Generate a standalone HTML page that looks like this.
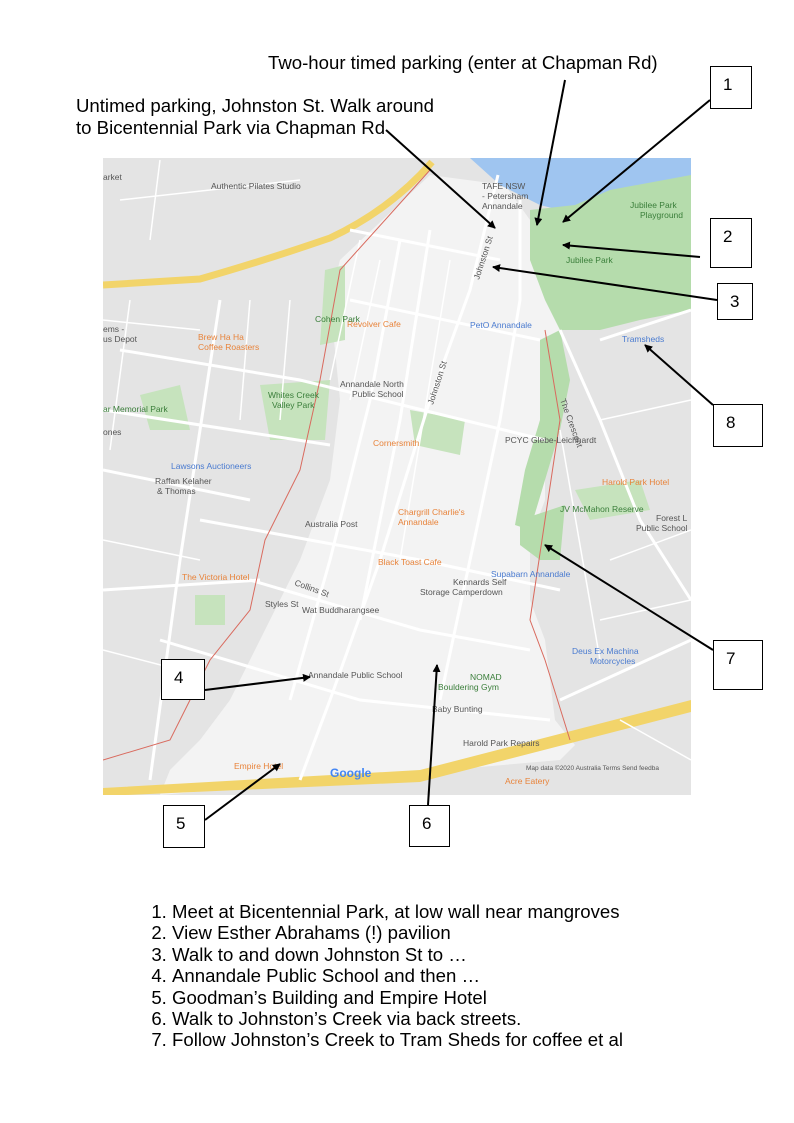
<!DOCTYPE html>
<html><head><meta charset="utf-8"><style>
body{margin:0;width:794px;height:1123px;background:#fff;position:relative;font-family:"Liberation Sans",Arial,sans-serif;overflow:hidden}
.t{position:absolute;font-size:18.6px;color:#000;white-space:nowrap}
.b{position:absolute;border:1px solid #000;background:#fff;font-size:17px;box-sizing:border-box;padding:8px 0 0 12px}
ol{position:absolute;left:130px;top:901px;margin:0;padding-left:42px;font-size:18.6px;line-height:21.4px}
svg{position:absolute;left:0;top:0}
</style></head><body>
<svg width="794" height="1123" viewBox="0 0 794 1123" font-family="Liberation Sans, Arial, sans-serif">
<defs><clipPath id="c"><rect x="103" y="158" width="588" height="637"/></clipPath>
<marker id="a" markerWidth="8" markerHeight="8" refX="7" refY="4" orient="auto" markerUnits="userSpaceOnUse"><path d="M0,0L8,4L0,8z" fill="#000"/></marker></defs>
<g clip-path="url(#c)">
<rect x="103" y="158" width="588" height="637" fill="#e4e4e4"/>
<polygon points="340,260 430,175 505,185 530,220 548,260 560,330 545,420 545,500 530,540 530,600 545,640 555,720 575,745 560,760 160,795 170,770 200,740 230,700 260,640 300,560 330,480 340,400 330,300" fill="#f3f3f3"/>
<polygon points="470,158 691,158 691,180 600,200 560,210 540,205 500,185" fill="#9fc5f0"/>
<polygon points="530,210 575,205 610,190 691,175 691,310 640,320 600,330 560,330 545,300 530,260" fill="#b5dcac"/>
<polygon points="540,340 560,330 570,380 560,430 545,480 530,530 515,525 525,470 540,420" fill="#b5dcac"/>
<polygon points="520,520 565,505 560,560 540,560 520,545" fill="#b5dcac"/>
<polygon points="575,490 640,480 650,510 590,520" fill="#c6e3bd"/>
<polygon points="325,270 345,265 345,340 320,345" fill="#c6e3bd"/>
<polygon points="260,385 330,380 325,440 270,440" fill="#c6e3bd"/>
<polygon points="140,395 180,385 190,430 150,430" fill="#c6e3bd"/>
<polygon points="410,410 465,420 460,455 415,445" fill="#c6e3bd"/>
<polygon points="195,595 225,595 225,625 195,625" fill="#c6e3bd"/>
<path d="M103,285 L200,279 Q260,262 330,238 Q390,210 432,162" stroke="#f2d46a" stroke-width="7" fill="none"/>
<polygon points="103,788 420,770 691,700 691,712 420,782 103,796" fill="#f2d46a"/>
<g stroke="#fff" stroke-width="3" fill="none">
<path d="M498,175 L470,290 L430,400 L380,560 L330,700 L300,780"/>
<path d="M520,200 L520,300 L500,420 L470,560 L440,700"/>
<path d="M120,350 L300,380 L545,440"/>
<path d="M200,520 L420,560 L560,590"/>
<path d="M250,580 L420,630 L530,650"/>
<path d="M160,640 L360,700 L550,720"/>
<path d="M350,230 L500,260"/>
<path d="M350,300 L540,340"/>
<path d="M103,410 L330,445"/>
<path d="M103,470 L250,500"/>
<path d="M103,590 L260,580"/>
<path d="M220,300 L180,560 L150,780"/>
<path d="M400,240 L370,400 L330,560 L290,700"/>
<path d="M430,230 L400,420 L360,620"/>
<path d="M560,330 L600,420 L640,520 L691,600"/>
<path d="M560,700 L691,640"/>
<path d="M600,340 L691,310"/>
</g>
<g stroke="#fff" stroke-width="1.5" fill="none">
<path d="M103,320 L200,330"/><path d="M103,540 L200,560"/><path d="M103,650 L180,670"/>
<path d="M130,300 L110,450"/><path d="M250,300 L240,420"/><path d="M290,300 L280,420"/>
<path d="M120,200 L300,180"/><path d="M160,160 L150,240"/><path d="M600,420 L691,400"/>
<path d="M610,560 L691,530"/><path d="M600,620 L691,600"/><path d="M620,720 L691,760"/>
<path d="M360,240 L330,380"/><path d="M380,260 L350,400"/><path d="M450,260 L400,560"/>
<path d="M560,430 L600,660"/>
</g>
<path d="M430,170 L340,270 L320,380 L300,470 L265,540 L250,610 L210,660 L190,700 L170,740 L103,760" stroke="#d96a5e" stroke-width="1" fill="none"/>
<path d="M545,330 L560,420 L545,520 L530,620 L545,660 L570,740" stroke="#d96a5e" stroke-width="1" fill="none"/>
<g font-size="8.5" fill="#e8833a">
<text x="347" y="327">Revolver Cafe</text>
<text x="198" y="340">Brew Ha Ha</text><text x="198" y="350">Coffee Roasters</text>
<text x="373" y="446">Cornersmith</text>
<text x="398" y="515">Chargrill Charlie's</text><text x="398" y="525">Annandale</text>
<text x="378" y="565">Black Toast Cafe</text>
<text x="182" y="580">The Victoria Hotel</text>
<text x="234" y="769">Empire Hotel</text>
<text x="602" y="485">Harold Park Hotel</text>
<text x="505" y="784">Acre Eatery</text>
</g>
<g font-size="8.5" fill="#3a7e3a">
<text x="315" y="322">Cohen Park</text>
<text x="268" y="398">Whites Creek</text><text x="272" y="408">Valley Park</text>
<text x="103" y="412">ar Memorial Park</text>
<text x="560" y="512">JV McMahon Reserve</text>
<text x="470" y="680">NOMAD</text><text x="438" y="690">Bouldering Gym</text>
<text x="566" y="263">Jubilee Park</text>
<text x="630" y="208">Jubilee Park</text><text x="640" y="218">Playground</text>
</g>
<g font-size="8.5" fill="#4a7bd0">
<text x="470" y="328">PetO Annandale</text>
<text x="622" y="342">Tramsheds</text>
<text x="171" y="469">Lawsons Auctioneers</text>
<text x="491" y="577">Supabarn Annandale</text>
<text x="572" y="654">Deus Ex Machina</text><text x="590" y="664">Motorcycles</text>
</g>
<g font-size="8.5" fill="#555">
<text x="211" y="189">Authentic Pilates Studio</text>
<text x="482" y="189">TAFE NSW</text><text x="482" y="199">- Petersham</text><text x="482" y="209">Annandale</text>
<text x="340" y="387">Annandale North</text><text x="352" y="397">Public School</text>
<text x="155" y="484">Raffan Kelaher</text><text x="157" y="494">&amp; Thomas</text>
<text x="305" y="527">Australia Post</text>
<text x="453" y="585">Kennards Self</text><text x="420" y="595">Storage Camperdown</text>
<text x="302" y="613">Wat Buddharangsee</text>
<text x="308" y="678">Annandale Public School</text>
<text x="432" y="712">Baby Bunting</text>
<text x="463" y="746">Harold Park Repairs</text>
<text x="505" y="443">PCYC Glebe-Leichhardt</text>
<text x="656" y="521">Forest L</text><text x="636" y="531">Public School</text>
<text x="103" y="332">ems -</text><text x="103" y="342">us Depot</text>
<text x="103" y="435">ones</text>
<text x="103" y="180">arket</text>
<text x="265" y="607">Styles St</text>
<text x="433" y="405" transform="rotate(-72 433 405)">Johnston St</text>
<text x="479" y="280" transform="rotate(-72 479 280)">Johnston St</text>
<text x="294" y="585" transform="rotate(20 294 585)">Collins St</text>
<text x="560" y="400" transform="rotate(70 560 400)">The Crescent</text>
<text x="526" y="770" font-size="6.5">Map data ©2020   Australia   Terms   Send feedba</text>
</g>
<text x="330" y="777" font-size="12" font-weight="bold" fill="#4285f4">Google</text>
</g>
<g stroke="#000" stroke-width="2" fill="none" marker-end="url(#a)">
<line x1="386" y1="130" x2="495" y2="228"/>
<line x1="565" y1="80" x2="537" y2="225"/>
<line x1="710" y1="100" x2="563" y2="222"/>
<line x1="700" y1="257" x2="563" y2="245"/>
<line x1="717" y1="300" x2="493" y2="267"/>
<line x1="713" y1="405" x2="645" y2="345"/>
<line x1="713" y1="650" x2="545" y2="545"/>
<line x1="205" y1="690" x2="310" y2="677"/>
<line x1="205" y1="820" x2="280" y2="764"/>
<line x1="428" y1="805" x2="437" y2="665"/>
</g>
</svg>
<div class="t" style="left:268px;top:52px">Two-hour timed parking (enter at Chapman Rd)</div>
<div class="t" style="left:76px;top:95px">Untimed parking, Johnston St. Walk around</div>
<div class="t" style="left:76px;top:117px">to Bicentennial Park via Chapman Rd</div>
<div class="b" style="left:710px;top:66px;width:42px;height:43px">1</div>
<div class="b" style="left:710px;top:218px;width:42px;height:50px">2</div>
<div class="b" style="left:717px;top:283px;width:36px;height:37px">3</div>
<div class="b" style="left:713px;top:404px;width:50px;height:43px">8</div>
<div class="b" style="left:713px;top:640px;width:50px;height:50px">7</div>
<div class="b" style="left:161px;top:659px;width:44px;height:41px">4</div>
<div class="b" style="left:163px;top:805px;width:42px;height:43px">5</div>
<div class="b" style="left:409px;top:805px;width:41px;height:42px">6</div>
<ol>
<li>Meet at Bicentennial Park, at low wall near mangroves</li>
<li>View Esther Abrahams (!) pavilion</li>
<li>Walk to and down Johnston St to …</li>
<li>Annandale Public School and then …</li>
<li>Goodman’s Building and Empire Hotel</li>
<li>Walk to Johnston’s Creek via back streets.</li>
<li>Follow Johnston’s Creek to Tram Sheds for coffee et al</li>
</ol>
</body></html>
